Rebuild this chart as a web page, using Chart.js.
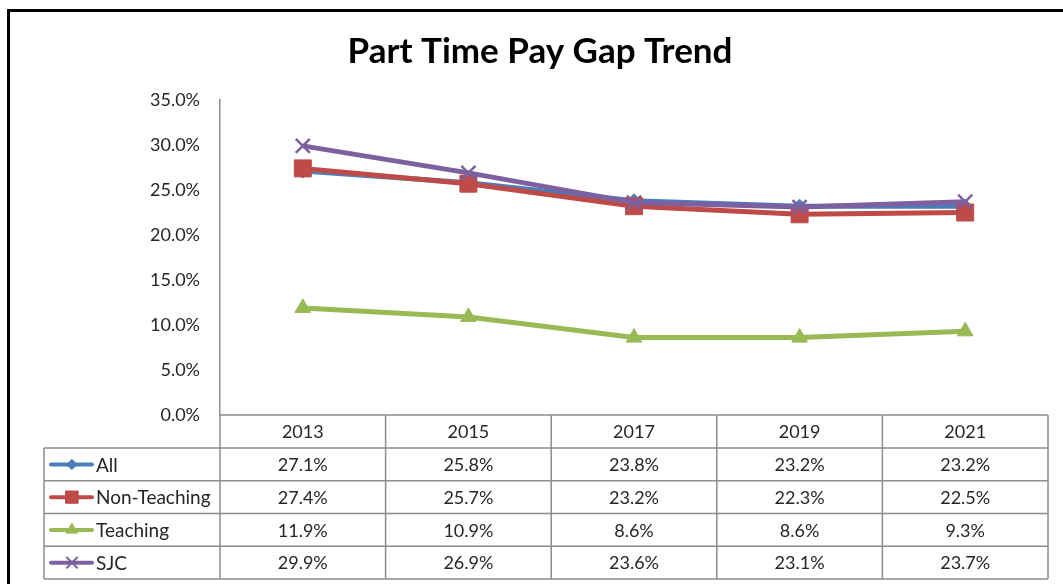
<!DOCTYPE html>
<html>
<head>
<meta charset="utf-8">
<script src="https://cdn.jsdelivr.net/npm/chart.js@4"></script>
<style>
  body { margin: 0; background: #fff; }
  canvas { display: block; }
</style>
</head>
<body>
<canvas id="gapChart" width="1063" height="584"></canvas>
<script>
const years = ["2013", "2015", "2017", "2019", "2021"];
const allStaff = [27.1, 25.8, 23.8, 23.2, 23.2];
const nonTeaching = [27.4, 25.7, 23.2, 22.3, 22.5];
const teaching = [11.9, 10.9, 8.6, 8.6, 9.3];
const sjc = [29.9, 26.9, 23.6, 23.1, 23.7];

const FONT = "Lato, 'Open Sans', sans-serif";
const TEXT = "#262626";
const GRID = "#8c8c8c";

const series = [
  { label: "All", data: allStaff, color: "#4a7ebb", style: "rectRot", radius: 7, order: 4 },
  { label: "Non-Teaching", data: nonTeaching, color: "#be4b48", style: "rect", radius: 12, order: 3 },
  { label: "Teaching", data: teaching, color: "#98b954", style: "triangle", radius: 9, order: 2 },
  { label: "SJC", data: sjc, color: "#7d60a0", style: "crossRot", radius: 10, order: 1 }
];

// frame + title
const framePlugin = {
  id: "frame",
  beforeDraw(chart) {
    const ctx = chart.ctx;
    ctx.save();
    ctx.fillStyle = "#fff";
    ctx.fillRect(0, 0, chart.width, chart.height);
    ctx.strokeStyle = "#000";
    ctx.lineWidth = 3;
    ctx.strokeRect(8.5, 10.5, 1200, 800);
    ctx.fillStyle = "#000";
    ctx.font = "bold 35px " + FONT;
    ctx.textAlign = "center";
    ctx.textBaseline = "middle";
    ctx.fillText("Part Time Pay Gap Trend", 540, 52);
    ctx.restore();
  }
};

// data table under the plot, columns follow the x scale
const tablePlugin = {
  id: "dataTable",
  afterDraw(chart) {
    const { ctx, chartArea } = chart;
    const x = chart.scales.x;
    const half = (x.getPixelForValue(1) - x.getPixelForValue(0)) / 2;
    const left = 44;
    const right = chartArea.right;
    const top = chartArea.bottom;
    const headH = 33;
    const rowH = 32.75;
    const bottom = top + headH + rowH * series.length;

    ctx.save();
    ctx.strokeStyle = GRID;
    ctx.lineWidth = 1.5;
    ctx.beginPath();
    ctx.moveTo(chartArea.left, top);
    ctx.lineTo(right, top);
    for (let r = 0; r <= series.length; r++) {
      const y = top + headH + rowH * r;
      ctx.moveTo(left, y);
      ctx.lineTo(right, y);
    }
    ctx.moveTo(left, top + headH);
    ctx.lineTo(left, bottom);
    years.forEach((_, i) => {
      const cx = x.getPixelForValue(i);
      ctx.moveTo(cx - half, top);
      ctx.lineTo(cx - half, bottom);
      if (i === years.length - 1) {
        ctx.moveTo(cx + half, top);
        ctx.lineTo(cx + half, bottom);
      }
    });
    ctx.stroke();

    ctx.fillStyle = TEXT;
    ctx.font = "18px " + FONT;
    ctx.textAlign = "center";
    ctx.textBaseline = "middle";
    years.forEach((yr, i) => {
      ctx.fillText(yr, x.getPixelForValue(i), top + headH / 2 + 1);
    });

    series.forEach((s, r) => {
      const cy = top + headH + rowH * r + rowH / 2;
      // legend key
      ctx.strokeStyle = s.color;
      ctx.fillStyle = s.color;
      ctx.lineWidth = 4;
      ctx.lineCap = "round";
      ctx.beginPath();
      ctx.moveTo(51, cy);
      ctx.lineTo(92, cy);
      ctx.stroke();
      ctx.lineWidth = s.style === "crossRot" ? 2 : 1;
      Chart.helpers.drawPoint(ctx, {
        pointStyle: s.style,
        radius: s.radius * 0.72,
        borderWidth: ctx.lineWidth
      }, 72, cy);
      ctx.fillStyle = TEXT;
      ctx.font = "19px " + FONT;
      ctx.textAlign = "left";
      ctx.fillText(s.label, 96, cy + 1);
      ctx.font = "18px " + FONT;
      ctx.textAlign = "center";
      s.data.forEach((v, i) => {
        ctx.fillText(v.toFixed(1) + "%", x.getPixelForValue(i), cy + 1);
      });
    });
    ctx.restore();
  }
};

new Chart(document.getElementById("gapChart"), {
  type: "line",
  data: {
    labels: years,
    datasets: series.map(s => ({
      label: s.label,
      data: s.data,
      borderColor: s.color,
      backgroundColor: s.color,
      pointBorderColor: s.color,
      pointBackgroundColor: s.color,
      pointStyle: s.style,
      pointRadius: s.radius,
      pointBorderWidth: s.style === "crossRot" ? 2.5 : 1,
      borderWidth: 5,
      tension: 0,
      order: s.order
    }))
  },
  options: {
    responsive: false,
    animation: false,
    devicePixelRatio: 1,
    layout: { padding: { top: 100, bottom: 169, left: 0, right: 15 } },
    plugins: {
      legend: { display: false },
      title: { display: false },
      tooltip: { enabled: false }
    },
    scales: {
      x: {
        display: false,
        offset: true
      },
      y: {
        min: 0,
        max: 35,
        afterFit(scale) { scale.width = 220; },
        grid: { display: false, drawTicks: false },
        border: { display: true, color: GRID, width: 1.5 },
        ticks: {
          stepSize: 5,
          padding: 20,
          color: TEXT,
          font: { family: FONT, size: 18 },
          callback: v => v.toFixed(1) + "%"
        }
      }
    }
  },
  plugins: [framePlugin, tablePlugin]
});
</script>
</body>
</html>
